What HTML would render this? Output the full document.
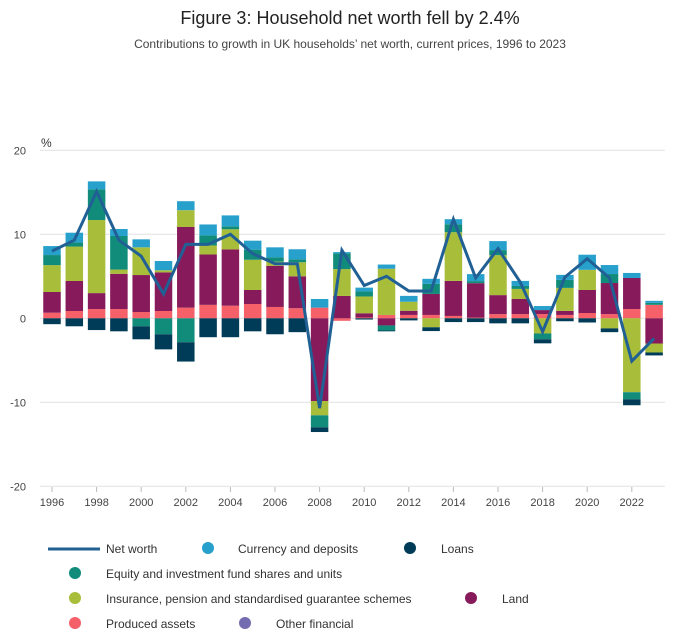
<!DOCTYPE html>
<html><head><meta charset="utf-8"><style>
body{margin:0;background:#fff;font-family:"Liberation Sans",sans-serif;}
svg text{font-family:"Liberation Sans",sans-serif;}
</style></head><body>
<svg width="700" height="635" viewBox="0 0 700 635">
<text x="350" y="24" text-anchor="middle" font-size="18" fill="#222">Figure 3: Household net worth fell by 2.4%</text>
<text x="350" y="48" text-anchor="middle" font-size="12" fill="#444">Contributions to growth in UK households’ net worth, current prices, 1996 to 2023</text>
<text x="41" y="147" font-size="12" fill="#333">%</text>
<g id="grid"></g><g id="bars"></g><g id="line"></g><g id="xlabels"></g>
<g font-size="12" fill="#333">
<line x1="48" y1="549" x2="100" y2="549" stroke="#206095" stroke-width="3"/>
<text x="106" y="553">Net worth</text>
<circle cx="208" cy="548" r="6" fill="#27a0cc"/>
<text x="238" y="553">Currency and deposits</text>
<circle cx="410" cy="548" r="6" fill="#003c57"/>
<text x="441" y="553">Loans</text>
<circle cx="75" cy="573" r="6" fill="#118c7b"/>
<text x="106" y="578">Equity and investment fund shares and units</text>
<circle cx="75" cy="598" r="6" fill="#a8bd3a"/>
<text x="106" y="603">Insurance, pension and standardised guarantee schemes</text>
<circle cx="471" cy="598" r="6" fill="#871a5b"/>
<text x="502" y="603">Land</text>
<circle cx="75" cy="623" r="6" fill="#f66068"/>
<text x="106" y="628">Produced assets</text>
<circle cx="245" cy="623" r="6" fill="#746cb1"/>
<text x="276" y="628">Other financial</text>
</g>
</svg>
<script>
const years=[1996,1997,1998,1999,2000,2001,2002,2003,2004,2005,2006,2007,2008,2009,2010,2011,2012,2013,2014,2015,2016,2017,2018,2019,2020,2021,2022,2023];
const produced=[0.67,0.87,1.1,1.1,0.75,0.87,1.27,1.6,1.5,1.7,1.35,1.2,1.27,-0.3,0.1,0.4,0.4,0.4,0.28,0.08,0.5,0.5,0.5,0.4,0.63,0.5,1.1,1.6];
const land=[2.46,3.57,1.9,4.2,4.4,4.6,9.6,6.0,6.7,1.67,4.9,3.8,-9.85,2.66,0.5,-0.85,0.5,2.5,4.17,4.1,2.26,1.8,0.48,0.48,2.74,3.7,3.7,-3.0];
const insurance=[3.2,4.1,8.7,0.5,3.3,0.25,2.0,1.07,2.4,3.6,0.5,1.67,-1.7,3.2,2.0,5.5,1.07,-1.07,5.8,0,4.76,1.2,-1.8,2.74,2.4,-1.2,-8.8,-1.07];
const equity=[1.2,0.5,3.65,4.0,-0.95,-1.9,-2.85,1.2,0.35,1.2,0.5,0.35,-1.43,1.87,0.6,-0.6,0,1.2,0.95,0.25,0.6,0.35,-0.7,0.95,0,1.07,-0.85,0.24];
const currency=[1.07,1.15,0.95,0.83,0.95,1.1,1.07,1.3,1.3,1.07,1.2,1.2,1.03,0.15,0.45,0.5,0.7,0.6,0.6,0.83,1.07,0.6,0.48,0.6,1.8,1.07,0.6,0.24];
const otherFin=[0,0,0,0,0,0,0,0,0,0,0,0,0,0,0,0,0,0,0,0,0,0,0,0,0,0,0,0];
const loans=[-0.7,-0.95,-1.4,-1.55,-1.55,-1.8,-2.3,-2.25,-2.25,-1.55,-1.9,-1.65,-0.56,0,-0.15,-0.1,-0.25,-0.45,-0.45,-0.45,-0.6,-0.6,-0.48,-0.35,-0.5,-0.45,-0.7,-0.35];
const netWorth=[8.0,9.3,15.1,9.3,7.4,2.9,8.8,8.8,10.0,7.7,6.5,6.5,-10.7,8.1,3.9,5.0,3.25,3.25,11.8,4.8,8.3,4.3,-1.6,4.9,7.1,4.8,-5.1,-2.4];
const yTicks=[20,10,0,-10,-20];
const series=[[produced,'#f66068','produced'],[land,'#871a5b','land'],[insurance,'#a8bd3a','insurance'],[equity,'#118c7b','equity'],[currency,'#27a0cc','currency'],[otherFin,'#746cb1','other-financial'],[loans,'#003c57','loans']];
const NS='http://www.w3.org/2000/svg';
const yS=v=>318.3-v*8.4;
const xS=yr=>52+(yr-1996)*22.3;
const bw=17.5;
function mk(tag,attrs,parent){const e=document.createElementNS(NS,tag);for(const k in attrs)e.setAttribute(k,attrs[k]);parent.appendChild(e);return e;}
const grid=document.getElementById('grid');
yTicks.forEach(t=>{
 const l=mk('line',{x1:40,x2:665,y1:yS(t),y2:yS(t),stroke:'#e2e2e2','stroke-width':1},grid);
 
 
 const tx=mk('text',{x:26,y:yS(t)+4,'text-anchor':'end','font-size':11,fill:'#444'},grid);
 tx.textContent=t;
 
 
});
const bars=document.getElementById('bars');
years.forEach((yr,i)=>{
 let pos=0,neg=0;
 series.forEach(([arr,col,nm])=>{
  const v=arr[i]; if(!v)return;
  let y0,y1;
  if(v>0){y0=pos;pos+=v;y1=pos;}else{y0=neg;neg+=v;y1=neg;}
  const r=mk('rect',{x:xS(yr)-bw/2,y:Math.min(yS(y0),yS(y1)),width:bw,height:Math.abs(yS(y1)-yS(y0)),fill:col},bars);
  
  
 });
});
const pts=years.map((yr,i)=>xS(yr)+','+yS(netWorth[i])).join(' ');
const pl=mk('polyline',{points:pts,fill:'none',stroke:'#206095','stroke-width':3,'stroke-linejoin':'miter'},document.getElementById('line'));


const xl=document.getElementById('xlabels');
years.forEach(yr=>{
 if(yr%2)return;
 const t=mk('text',{x:xS(yr),y:506,'text-anchor':'middle','font-size':11,fill:'#444'},xl);
 t.textContent=yr;
 
 
 const tk=mk('line',{x1:xS(yr),x2:xS(yr),y1:487,y2:492,stroke:'#bbb'},xl);
 
 
});
</script>
</body></html>
